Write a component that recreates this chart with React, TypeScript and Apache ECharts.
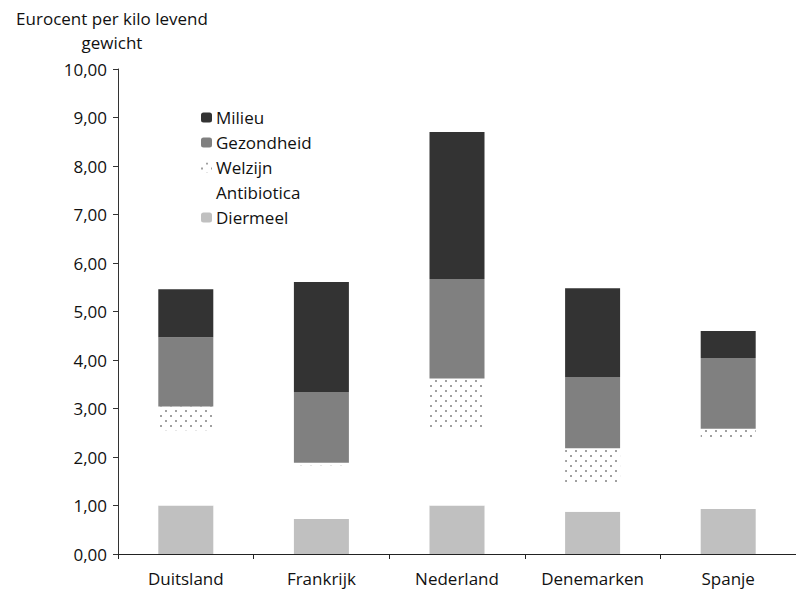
import React, { useEffect, useRef } from "react";
import * as echarts from "echarts";

const categories = ["Duitsland", "Frankrijk", "Nederland", "Denemarken", "Spanje"];
const diermeel = [1.0, 0.72, 1.0, 0.87, 0.93];
const antibiotica = [1.55, 1.11, 1.56, 0.59, 1.48];
const welzijn = [0.49, 0.05, 1.06, 0.72, 0.17];
const gezondheid = [1.43, 1.46, 2.05, 1.47, 1.46];
const milieu = [0.99, 2.27, 3.03, 1.83, 0.56];
const legendOrder = ["Milieu", "Gezondheid", "Welzijn", "Antibiotica", "Diermeel"];
const yTitle = "Eurocent per kilo levend\ngewicht";

const FONT = "'Open Sans', 'Noto Sans', sans-serif";

export default function App() {
  const ref = useRef<HTMLDivElement>(null);
  useEffect(() => {
    if (!ref.current) return;
    const chart = echarts.init(ref.current, null, { renderer: "svg" });
    const bar = (name: string, data: number[], itemStyle: any) => ({
      name,
      type: "bar",
      stack: "total",
      data,
      barWidth: 55,
      itemStyle,
      emphasis: { disabled: true },
    });
    chart.setOption({
      animation: false,
      backgroundColor: "#fff",
      textStyle: { fontFamily: FONT },
      grid: { left: 118, top: 69, width: 685, height: 485, containLabel: false },
      graphic: [
        {
          type: "text",
          x: 112,
          y: 6,
          style: {
            text: yTitle,
            textAlign: "center",
            font: `17px ${FONT}`,
            lineHeight: 24,
            fill: "#111",
          },
        },
      ],
      legend: {
        orient: "vertical",
        left: 201,
        top: 108,
        padding: 0,
        itemWidth: 11,
        itemHeight: 10,
        itemGap: 6,
        data: legendOrder,
        textStyle: { fontSize: 17, fontFamily: FONT, color: "#111", lineHeight: 19, padding: [0, 0, 0, -1] },
      },
      xAxis: {
        type: "category",
        data: categories,
        axisLine: { lineStyle: { color: "#222", width: 1 } },
        axisTick: { show: true, length: 5, lineStyle: { color: "#222" } },
        axisLabel: { fontSize: 17, color: "#111", margin: 15, lineHeight: 19, fontFamily: FONT },
      },
      yAxis: {
        type: "value",
        min: 0,
        max: 10,
        interval: 1,
        splitLine: { show: false },
        axisLine: { show: true, lineStyle: { color: "#333", width: 1 } },
        axisTick: { show: true, length: 5, lineStyle: { color: "#333" } },
        axisLabel: {
          fontSize: 17,
          color: "#111",
          margin: 11,
          fontFamily: FONT,
          formatter: (v: number) => v.toFixed(2).replace(".", ","),
        },
      },
      series: [
        bar("Diermeel", diermeel, { color: "#c0c0c0" }),
        bar("Antibiotica", antibiotica, { color: "#ffffff" }),
        bar("Welzijn", welzijn, {
          color: "#ffffff",
          decal: {
            symbol: "rect",
            symbolSize: 1,
            color: "#a0a0a0",
            dashArrayX: [
              [1.5, 7.5],
              [0, 4.5, 1.5, 3],
            ],
            dashArrayY: [1.5, 2.7],
            rotation: 0,
          },
        }),
        bar("Gezondheid", gezondheid, { color: "#808080" }),
        bar("Milieu", milieu, { color: "#333333" }),
      ],
    });
    return () => chart.dispose();
  }, []);
  return <div ref={ref} style={{ width: 796, height: 589, position: "absolute", left: 0, top: 0 }} />;
}
